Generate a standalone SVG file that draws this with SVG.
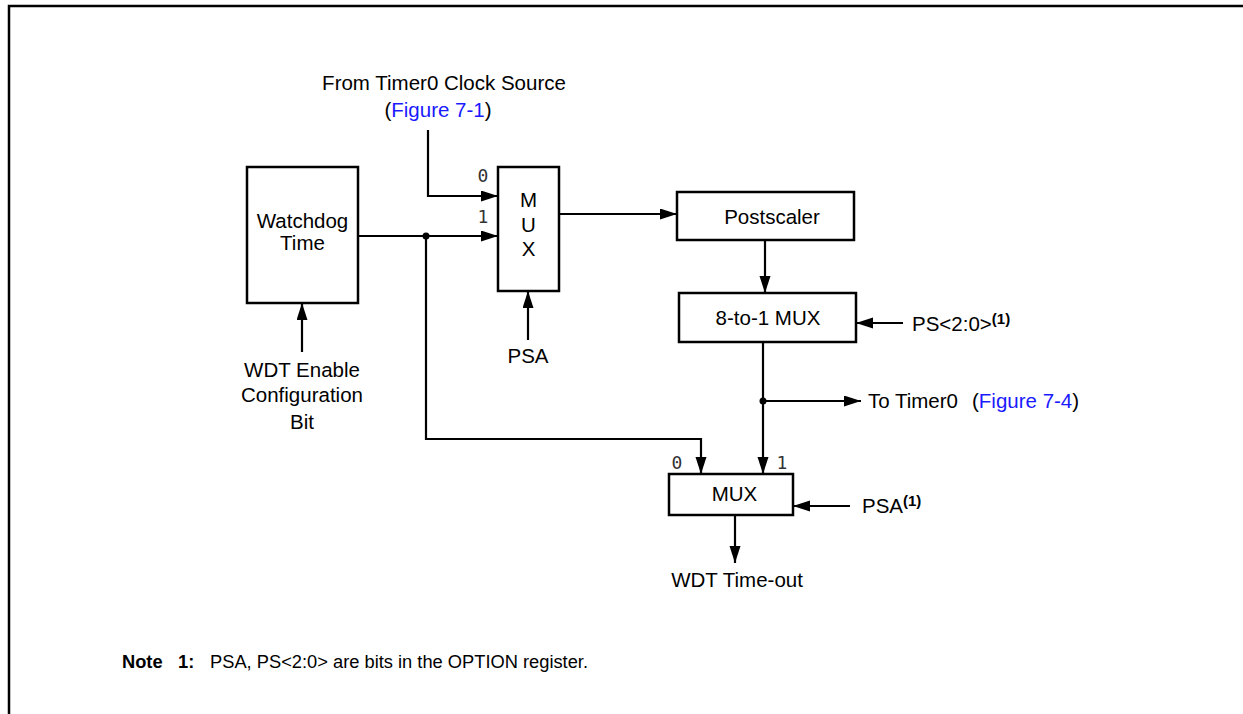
<svg xmlns="http://www.w3.org/2000/svg" width="1243" height="714" viewBox="0 0 1243 714">
<defs>
<style>
.box{fill:#fff;stroke:#000;stroke-width:2.5}
.w{fill:none;stroke:#000;stroke-width:2.2}
.t{font-family:"Liberation Sans",Arial,sans-serif;font-size:20.5px;fill:#000}
.m{font-family:"DejaVu Sans Mono","Liberation Mono",monospace;font-size:18px;fill:#333}
.sup{font-family:"Liberation Sans",Arial,sans-serif;font-size:15px;font-weight:bold;fill:#000}
.lnk{fill:#1a1aff}
.n{font-family:"Liberation Sans",Arial,sans-serif;font-size:18.3px;fill:#000}
</style>
<marker id="ah" markerUnits="userSpaceOnUse" markerWidth="18" markerHeight="12" refX="17" refY="5.5" orient="auto">
<path d="M0,0 L17,5.5 L0,11 z" fill="#000"/>
</marker>
</defs>
<rect width="1243" height="714" fill="#fff"/>
<path d="M9,714 V6 H1243" fill="none" stroke="#000" stroke-width="2.5"/>

<g id="watchdog">
<rect class="box" x="247" y="167" width="111" height="136"/>
<text class="t" x="302.5" y="228" text-anchor="middle">Watchdog</text>
<text class="t" x="302.5" y="250" text-anchor="middle">Time</text>
</g>
<g id="mux1">
<rect class="box" x="498" y="167" width="61" height="124"/>
<text class="t" x="528.5" y="207" text-anchor="middle">M</text>
<text class="t" x="528.5" y="232" text-anchor="middle">U</text>
<text class="t" x="528.5" y="256" text-anchor="middle">X</text>
</g>
<g id="postscaler">
<rect class="box" x="677" y="192" width="177" height="48"/>
<text class="t" x="772" y="224" text-anchor="middle">Postscaler</text>
</g>
<g id="mux8">
<rect class="box" x="679" y="293" width="177" height="49"/>
<text class="t" x="768" y="325" text-anchor="middle">8-to-1 MUX</text>
</g>
<g id="mux2">
<rect class="box" x="669" y="474" width="124" height="41"/>
<text class="t" x="734.5" y="501" text-anchor="middle">MUX</text>
</g>

<g id="connectors">
<path class="w" d="M428,130 V196 H498" marker-end="url(#ah)"/>
<path class="w" d="M358,236 H498" marker-end="url(#ah)"/>
<path class="w" d="M302,352 V303" marker-end="url(#ah)"/>
<path class="w" d="M528,340 V291" marker-end="url(#ah)"/>
<path class="w" d="M559,214 H677" marker-end="url(#ah)"/>
<path class="w" d="M765,240 V293" marker-end="url(#ah)"/>
<path class="w" d="M903,323 H856" marker-end="url(#ah)"/>
<path class="w" d="M763,342 V474" marker-end="url(#ah)"/>
<path class="w" d="M763,401 H861" marker-end="url(#ah)"/>
<path class="w" d="M426,236 V439 H701 V474" marker-end="url(#ah)"/>
<path class="w" d="M850,506 H793" marker-end="url(#ah)"/>
<path class="w" d="M735,515 V563" marker-end="url(#ah)"/>
<circle cx="426" cy="236" r="3.5" fill="#000"/>
<circle cx="763" cy="401" r="3.5" fill="#000"/>
</g>

<g id="labels">
<text class="t" x="444" y="90" text-anchor="middle">From Timer0 Clock Source</text>
<text class="t" x="438" y="117" text-anchor="middle">(<tspan class="lnk">Figure 7-1</tspan>)</text>
<text class="m" x="483" y="182" text-anchor="middle">0</text>
<text class="m" x="483" y="223" text-anchor="middle">1</text>
<text class="t" x="528" y="363" text-anchor="middle">PSA</text>
<text class="t" x="302" y="377" text-anchor="middle">WDT Enable</text>
<text class="t" x="302" y="402" text-anchor="middle">Configuration</text>
<text class="t" x="302" y="429" text-anchor="middle">Bit</text>
<text class="t" x="912" y="331">PS&lt;2:0&gt;<tspan class="sup" dy="-7">(1)</tspan></text>
<text class="t" x="868" y="408">To Timer0</text>
<text class="t" x="972" y="408">(<tspan class="lnk">Figure 7-4</tspan>)</text>
<text class="m" x="677" y="469" text-anchor="middle">0</text>
<text class="m" x="782" y="469" text-anchor="middle">1</text>
<text class="t" x="862" y="513">PSA<tspan class="sup" dy="-7">(1)</tspan></text>
<text class="t" x="737" y="587" text-anchor="middle">WDT Time-out</text>
<text class="n" x="122" y="668" font-weight="bold">Note</text>
<text class="n" x="178" y="668" font-weight="bold">1:</text>
<text class="n" x="210" y="668">PSA, PS&lt;2:0&gt; are bits in the OPTION register.</text>
</g>
</svg>
